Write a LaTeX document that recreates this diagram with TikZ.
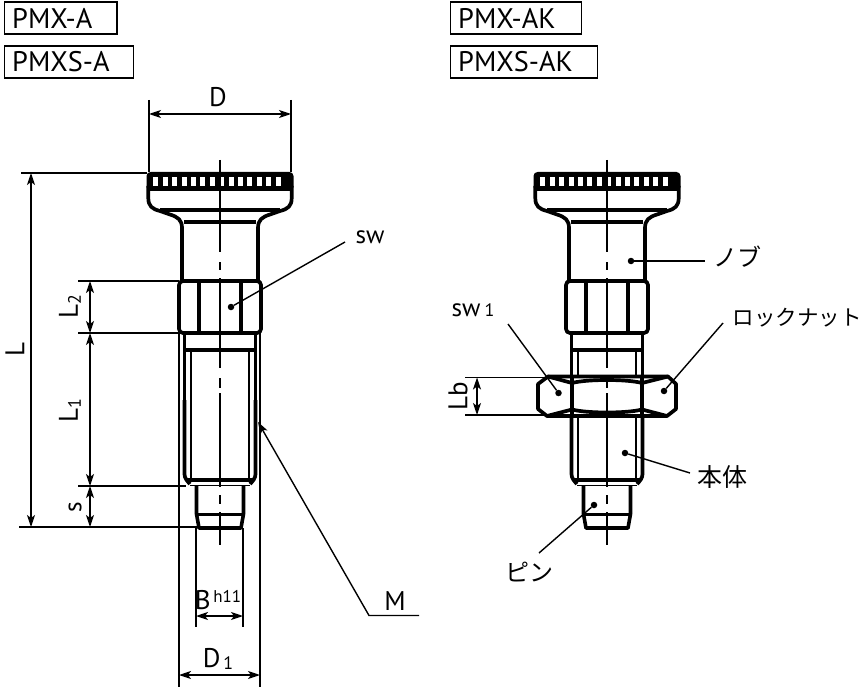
\documentclass[tikz,border=0pt]{standalone}
\usepackage{fontspec}
\setmainfont{PT Sans}
\newfontfamily\cjk{Noto Sans CJK JP}
\usetikzlibrary{arrows.meta}
\tikzset{
  heavy/.style={line width=3.7pt,line join=round,line cap=butt},
  thinl/.style={line width=1.7pt},
  dim/.style={line width=1.4pt,{Stealth[length=12pt,width=8pt,inset=3pt]}-{Stealth[length=12pt,width=8pt,inset=3pt]}},
  ext/.style={line width=1.4pt},
  lead/.style={line width=1.4pt},
  lbl/.style={inner sep=0pt,font=\fontsize{27}{27}\selectfont},
  small/.style={inner sep=0pt,font=\fontsize{25}{25}\selectfont},
  jp/.style={inner sep=0pt,font=\fontsize{24}{24}\selectfont\cjk},
  headbox/.style={draw,line width=1.8pt,inner sep=0pt,anchor=north west},
  headtxt/.style={anchor=west,inner sep=0pt,font=\fontsize{28.3}{28.3}\selectfont},
  blob/.style={circle,fill=black,inner sep=0pt,minimum size=6.5pt},
}
\newcommand{\pinbody}[1]{%
\begin{scope}[shift={(#1,0)}]
  \fill[rounded corners=4pt] (-73.5,172) rectangle (73.5,191);
  \foreach \k in {-64.2,-54.8,...,65}{\fill[white] (\k-2.5,177.5) rectangle (\k+2.5,186.5);}
  \draw[heavy] (-71.7,186) -- (-71.7,198) .. controls (-71.7,206) and (-68,209) .. (-60,211) -- (-50,214.5) .. controls (-42,217) and (-38,220) .. (-38,228) -- (-38,281);
  \draw[heavy] (71.7,186) -- (71.7,198) .. controls (71.7,206) and (68,209) .. (60,211) -- (50,214.5) .. controls (42,217) and (38,220) .. (38,228) -- (38,281);
  \draw[line width=4pt] (-60,209.5) -- (60,209.5);
  \draw[line width=4pt] (-36,222) -- (36,222);
  \draw[heavy,rounded corners=4pt] (-41,281) rectangle (41,333);
  \draw[heavy] (-21,281) -- (-21,333) (21,281) -- (21,333);
  \draw[line width=3.6pt,line join=round] (-23.5,485) -- (-23.5,514) -- (-21,528) -- (21,528) -- (23.5,514) -- (23.5,485);
  \draw[line width=3.6pt] (-23.5,514.5) -- (23.5,514.5);
\end{scope}}
\newcommand{\centerdash}[1]{%
\begin{scope}[shift={(#1,0)},line width=1.5pt]
  \draw (0,160) -- (0,252) (0,262) -- (0,270) (0,278) -- (0,368) (0,378) -- (0,388) (0,393) -- (0,487) (0,495) -- (0,504) (0,512) -- (0,545);
\end{scope}}
\newcommand{\lowerbody}[3]{%
\begin{scope}[shift={(#1,0)}]
  \draw[heavy] (-35.5,333) -- (-35.5,#2) (35.5,333) -- (35.5,#2);
  \draw[heavy] (-35.5,#3) -- (-35.5,474) .. controls (-35.5,478) and (-33,481) .. (-30,484) (35.5,#3) -- (35.5,474) .. controls (35.5,478) and (33,481) .. (30,484);
  \draw[line width=3.8pt] (-35,350) -- (35,350);
  \draw[line width=3.8pt] (-34,480) -- (34,480);
  \draw[thinl] (-29,350) -- (-29,#2) (29,350) -- (29,#2) (-29,#3) -- (-29,480) (29,#3) -- (29,480);
  \draw[thinl] (-30,485.5) -- (30,485.5);
\end{scope}}
\begin{document}
\begin{tikzpicture}[x=1pt,y=-1pt]
\useasboundingbox (0,0) rectangle (864,687);
\fill[white] (0,0) rectangle (864,687);
% header boxes
\node[headbox,minimum width=112.5pt,minimum height=32pt] (h1) at (3.5,1) {};
\node[headtxt] (h1t) at (12,18) {PMX-A};
\node[headbox,minimum width=129pt,minimum height=32pt] (h2) at (3.5,45) {};
\node[headtxt] (h2t) at (12,62) {PMXS-A};
\node[headbox,minimum width=131pt,minimum height=32pt] (h3) at (449.5,1) {};
\node[headtxt] (h3t) at (458,18) {PMX-AK};
\node[headbox,minimum width=147pt,minimum height=32pt] (h4) at (449.5,45) {};
\node[headtxt] (h4t) at (458,62) {PMXS-AK};
% pins
\pinbody{220}
\lowerbody{220}{401}{400}
\centerdash{220}
\pinbody{607}
\lowerbody{607}{377}{415}
\centerdash{607}
% lock nut
\begin{scope}[shift={(607,0)}]
  \filldraw[fill=white,heavy] (-59,376.5) -- (61,376.5) -- (69,384) -- (69,409) -- (60,416) -- (-60,416) -- (-69,409) -- (-69,384) -- cycle;
  \draw[heavy] (-35,378) -- (-35,414) (35,378) -- (35,414);
  \draw[heavy] (-59,376.5) -- (-35,383) .. controls (-20,379) and (20,379) .. (35,383) -- (61,376.5);
  \draw[heavy] (-60,416) -- (-35,409.5) .. controls (-20,413.5) and (20,413.5) .. (35,409.5) -- (60,416);
  \draw[line width=1.5pt] (0,376) -- (0,388) (0,393) -- (0,417);
\end{scope}
% extension lines
\coordinate (eDl) at (149,100); \coordinate (eDlb) at (149,172);
\coordinate (eDr) at (291,100); \coordinate (eDrb) at (291,172);
\draw[ext] (eDl) -- (eDlb) (eDr) -- (eDrb);
\coordinate (eLt) at (21,173); \coordinate (eLte) at (147,173);
\coordinate (eLb) at (19,527); \coordinate (eLbe) at (199,527);
\draw[ext] (eLt) -- (eLte) (eLb) -- (eLbe);
\coordinate (e2a) at (78,281); \coordinate (e2ae) at (179,281);
\coordinate (e2b) at (78,333); \coordinate (e2be) at (179,333);
\coordinate (e1a) at (78,486); \coordinate (e1ae) at (186,486);
\draw[ext] (e2a) -- (e2ae) (e2b) -- (e2be) (e1a) -- (e1ae);
\coordinate (eBl) at (196,528); \coordinate (eBle) at (196,627);
\coordinate (eBr) at (243,528); \coordinate (eBre) at (243,627);
\coordinate (eDa) at (179,333); \coordinate (eDae) at (179,687);
\coordinate (eDb) at (260,333); \coordinate (eDbe) at (260,687);
\draw[ext] (eBl) -- (eBle) (eBr) -- (eBre) (eDa) -- (eDae) (eDb) -- (eDbe);
% dimensions
\coordinate (dDa) at (149,114); \coordinate (dDb) at (291,114);
\draw[dim] (dDa) -- (dDb);
\coordinate (dLa) at (31,173); \coordinate (dLb) at (31,527);
\draw[dim] (dLa) -- (dLb);
\coordinate (d2a) at (90,281); \coordinate (d2b) at (90,333);
\coordinate (d1b) at (90,486); \coordinate (dsb) at (90,527);
\draw[dim] (d2a) -- (d2b);
\draw[dim] (d2b) -- (d1b);
\draw[dim] (d1b) -- (dsb);
\coordinate (dBa) at (196,616); \coordinate (dBb) at (243,616);
\draw[dim] (dBa) -- (dBb);
\coordinate (dEa) at (179,675); \coordinate (dEb) at (260,675);
\draw[dim] (dEa) -- (dEb);
% Lb
\coordinate (eLa) at (465,377.5); \coordinate (eLae) at (546,377.5);
\coordinate (eLc) at (465,415); \coordinate (eLce) at (546,415);
\draw[ext] (eLa) -- (eLae) (eLc) -- (eLce);
\coordinate (dbA) at (477,377.5); \coordinate (dbB) at (477,415);
\draw[dim] (dbA) -- (dbB);
% leaders
\node[blob] (bsw) at (231,307) {};
\coordinate (esw) at (345,242);
\draw[lead] (bsw) -- (esw);
\coordinate (mtip) at (258,422); \coordinate (mk) at (369,615.5); \coordinate (mend) at (419,615.5);
\draw[lead,{Stealth[length=12pt,width=8pt,inset=3pt]}-] (mtip) -- (mk) -- (mend);
\node[blob] (bnobu) at (631,261) {};
\coordinate (enobu) at (705,261);
\draw[lead] (bnobu) -- (enobu);
\node[blob] (bsw1) at (558.5,393) {};
\coordinate (esw1) at (508,324);
\draw[lead] (bsw1) -- (esw1);
\node[blob] (block) at (664,391) {};
\coordinate (elock) at (723,323);
\draw[lead] (block) -- (elock);
\node[blob] (bbody) at (625,453) {};
\coordinate (ebody) at (690,473);
\draw[lead] (bbody) -- (ebody);
\node[blob] (bpin) at (594,505) {};
\coordinate (epin) at (539,553);
\draw[lead] (bpin) -- (epin);
% labels
\node[lbl] (tD) at (218,97) {D};
\node[lbl,rotate=90] (tL) at (15,350) {L};
\node[lbl,rotate=90] (tL2) at (70,307) {L\raisebox{-3pt}{\fontsize{18}{18}\selectfont 2}};
\node[lbl,rotate=90] (tL1) at (70,411) {L\raisebox{-3pt}{\fontsize{18}{18}\selectfont 1}};
\node[small,rotate=90] (ts) at (75,507) {s};
\node[lbl] (tB) at (218,600) {B\raisebox{7pt}{\fontsize{17}{17}\selectfont\,h11}};
\node[lbl] (tD1) at (218,659) {D\raisebox{-2pt}{\fontsize{18}{18}\selectfont\,1}};
\node[lbl] (tM) at (395,601) {M};
\node[small] (tsw) at (370,237) {sw};
\node[small] (tsw1) at (473,310) {sw\,\fontsize{18}{18}\selectfont 1};
\node[lbl,rotate=90] (tLb) at (458,396) {Lb};
\node[jp] (tn) at (737,257) {ノブ};
\node[jp,font=\fontsize{21.5}{21.5}\selectfont\cjk] (tr) at (797,318) {ロックナット};
\node[jp,font=\fontsize{25}{25}\selectfont\cjk] (th) at (722,477) {本体};
\node[jp] (tp) at (529,572) {ピン};
\end{tikzpicture}
\end{document}
